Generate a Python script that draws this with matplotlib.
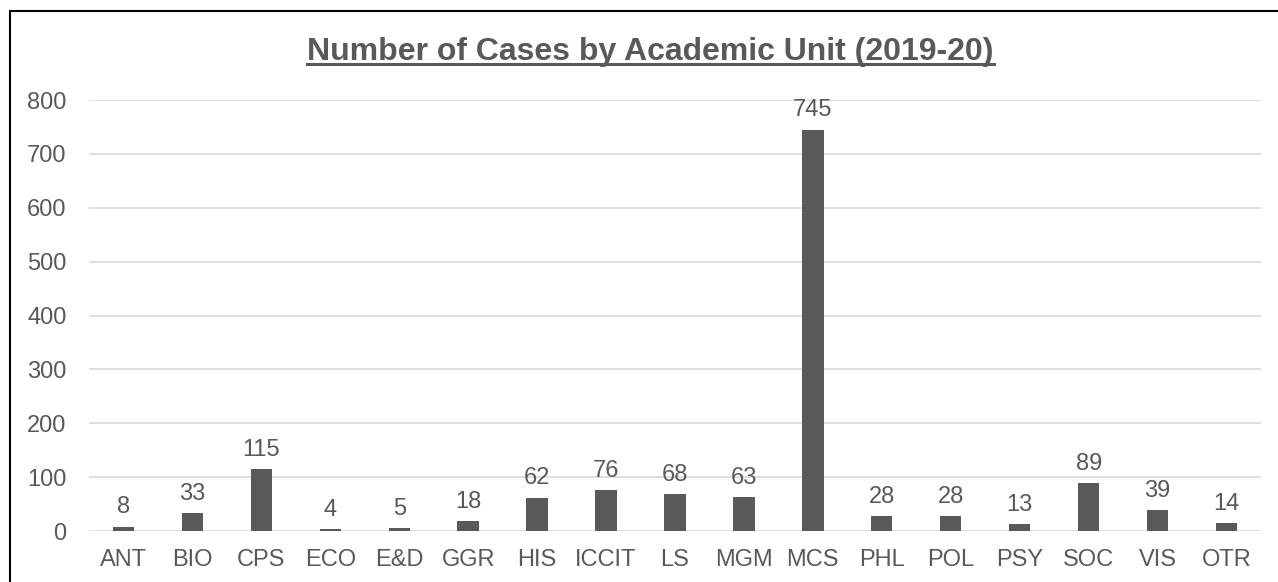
import numpy as np
import matplotlib.pyplot as plt
from matplotlib.lines import Line2D
from matplotlib.patches import Rectangle

unidades = ['ANT', 'BIO', 'CPS', 'ECO', 'E&D', 'GGR', 'HIS', 'ICCIT', 'LS',
            'MGM', 'MCS', 'PHL', 'POL', 'PSY', 'SOC', 'VIS', 'OTR']
casos = [8, 33, 115, 4, 5, 18, 62, 76, 68, 63, 745, 28, 28, 13, 89, 39, 14]
ticks_y = [0, 100, 200, 300, 400, 500, 600, 700, 800]

gris = '#595959'
plt.rcParams['font.family'] = ['Liberation Sans', 'DejaVu Sans']

fig = plt.figure(figsize=(12.78, 5.82), dpi=100)
ax = fig.add_axes([0.0696, 0.0876, 0.9171, 0.7404])

x = np.arange(len(unidades))
ax.bar(x, casos, width=0.31, color=gris, zorder=3)
for xi, v in zip(x, casos):
    ax.annotate(str(v), (xi, v), xytext=(0, 6), textcoords='offset points',
                ha='center', va='bottom', fontsize=17, color=gris)

ax.set_xlim(-0.5, len(unidades) - 0.5)
ax.set_ylim(0, 800)
ax.set_yticks(ticks_y)
ax.set_xticks(x)
ax.set_xticklabels(unidades)
ax.tick_params(axis='both', length=0, labelsize=17, labelcolor=gris)
ax.tick_params(axis='y', pad=16)
ax.tick_params(axis='x', pad=13)
ax.grid(axis='y', color='#d9d9d9', linewidth=1.2, zorder=0)
for s in ax.spines.values():
    s.set_visible(False)

titulo = fig.text(0.509, 0.91, 'Number of Cases by Academic Unit (2019-20)',
                  ha='center', va='center', fontsize=23, fontweight='bold', color=gris)

# subrayado del titulo
fig.canvas.draw()
bb = titulo.get_window_extent(fig.canvas.get_renderer()).transformed(fig.transFigure.inverted())
fig.add_artist(Line2D([bb.x0, bb.x1], [bb.y0 + 0.006, bb.y0 + 0.006],
                      transform=fig.transFigure, color=gris, linewidth=2.2))

# marco exterior
fig.add_artist(Rectangle((10 / 1278, -0.05), 1.2, 1 - 11 / 582 + 0.05,
                         transform=fig.transFigure, fill=False,
                         edgecolor='black', linewidth=1.5))

fig.savefig('out.png', dpi=100)
